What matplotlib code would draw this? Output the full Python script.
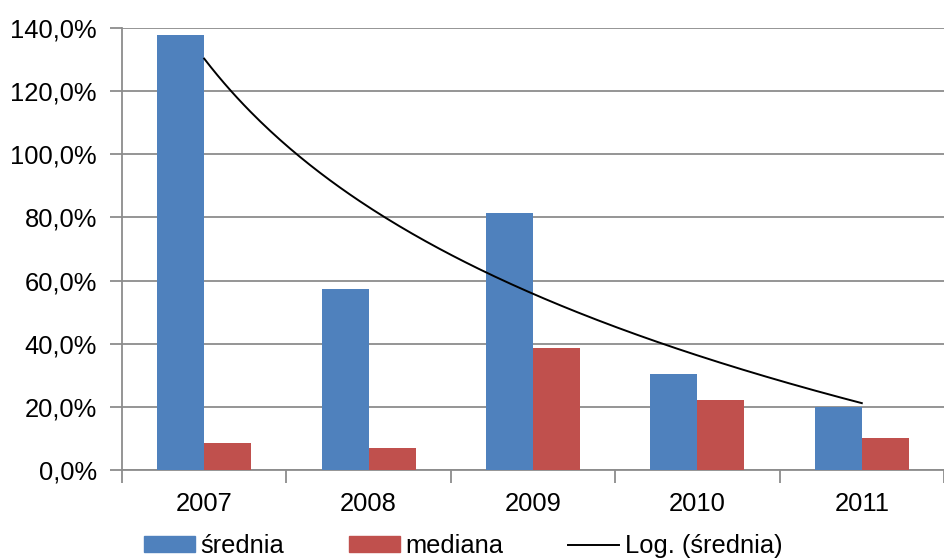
import numpy as np
import matplotlib
matplotlib.use("Agg")
import matplotlib.pyplot as plt
from matplotlib.lines import Line2D
from matplotlib.patches import Patch
from matplotlib.ticker import FuncFormatter, MultipleLocator

plt.rcParams['font.family'] = ['Liberation Sans', 'DejaVu Sans']

years = ["2007", "2008", "2009", "2010", "2011"]
srednia = [137.8, 57.3, 81.4, 30.4, 20.0]
mediana = [8.6, 7.0, 38.6, 22.2, 10.1]

BLUE = "#4F81BD"
RED = "#C0504D"
GRID = "#8C8C8C"
FS = 18.4

fig = plt.figure(figsize=(9.44, 5.59), dpi=100)
ax = fig.add_axes([122 / 944, 1 - 470 / 559, 1 - 122 / 944, (470 - 28) / 559])

x = np.arange(1, len(years) + 1)
w = 0.286
ax.bar(x - w / 2, srednia, width=w, color=BLUE, zorder=3)
ax.bar(x + w / 2, mediana, width=w, color=RED, zorder=3)

# logarithmic trend of the mean: y = a*ln(x) + b
a, b = np.polyfit(np.log(x), srednia, 1)
xt = np.linspace(1, len(years), 200)
ax.plot(xt, a * np.log(xt) + b, color="black", lw=1.4, zorder=4)

ax.set_xlim(0.5, len(years) + 0.5 - 9 / 166)
ax.set_ylim(0, 140)
ax.yaxis.set_major_locator(MultipleLocator(20))
ax.yaxis.set_major_formatter(FuncFormatter(lambda v, p: f"{v:.1f}%".replace(".", ",")))
ax.grid(axis="y", color=GRID, lw=1.3, zorder=0)
ax.set_axisbelow(True)

ax.set_xticks(np.arange(0.5, len(years) + 1, 1))
ax.set_xticklabels([])
ax.set_xticks(x, minor=True)
ax.set_xticklabels(years, minor=True)
ax.tick_params(axis="x", which="major", length=9, width=1.3, color=GRID, direction="out")
ax.tick_params(axis="x", which="minor", length=0, pad=15.5, labelsize=FS)
ax.tick_params(axis="y", length=9, width=1.3, color=GRID, direction="out", pad=9, labelsize=FS)

for s in ["top", "right"]:
    ax.spines[s].set_visible(False)
for s in ["left", "bottom"]:
    ax.spines[s].set_color(GRID)
    ax.spines[s].set_linewidth(1.3)

handles = [Patch(color=BLUE), Patch(color=RED), Line2D([], [], color="black", lw=1.4)]
labels = ["średnia", "mediana", "Log. (średnia)"]
fig.legend(handles, labels, loc="center", bbox_to_anchor=(463 / 944, 13 / 559), ncol=3,
           frameon=False, fontsize=FS, handlelength=2.0, handleheight=0.55,
           handletextpad=0.2, columnspacing=2.55, borderpad=0)

fig.savefig("out.png", dpi=100)
